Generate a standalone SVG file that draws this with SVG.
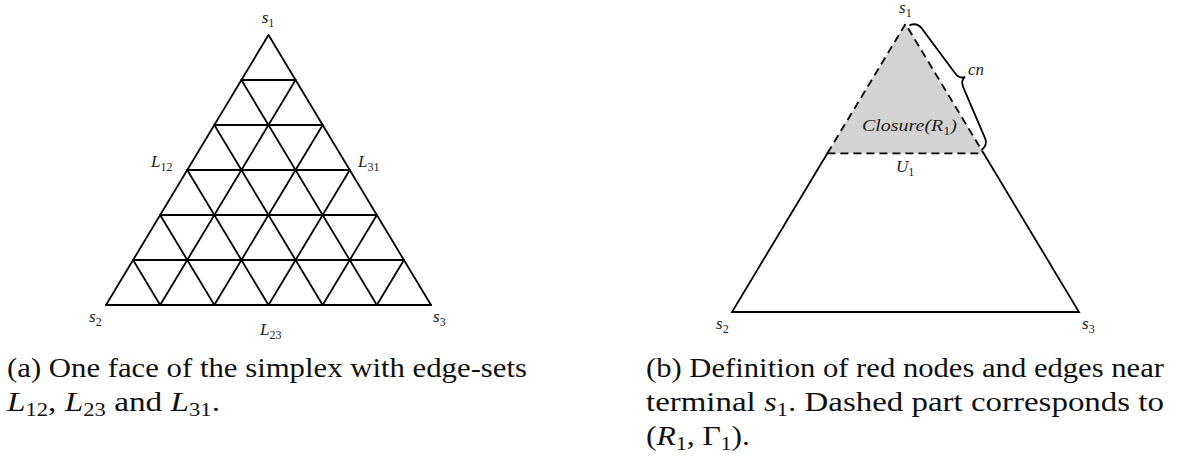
<svg xmlns="http://www.w3.org/2000/svg" width="1177" height="464" viewBox="0 0 1177 464">
<style>
.ln{stroke:#000;stroke-width:1.8;fill:none;stroke-linecap:round}
.ds{stroke:#000;stroke-width:1.8;fill:none;stroke-dasharray:8 5}
.lab{font-family:'Liberation Serif','DejaVu Serif',serif;font-style:italic;font-size:17px;fill:#222}
.sub{font-style:normal;font-size:12px}
.cap{font-family:'Liberation Serif','DejaVu Serif',serif;font-size:28px;fill:#111}
.m{font-style:italic}
.cs{font-size:19px}
</style>
<rect width="1177" height="464" fill="#fff"/>
<g id="panel-a">
  <g id="grid-a" class="ln">
    <path d="M241.42,80H295.58M214.33,125H322.67M187.25,170H349.75M160.17,215H376.83M133.08,260H403.92M106,305H431"/>
    <path d="M268.5,35L106,305M295.58,80L160.17,305M322.67,125L214.33,305M349.75,170L268.5,305M376.83,215L322.67,305M403.92,260L376.83,305"/>
    <path d="M268.5,35L431,305M241.42,80L376.83,305M214.33,125L322.67,305M187.25,170L268.5,305M160.17,215L214.33,305M133.08,260L160.17,305"/>
  </g>
  <g id="labels-a" class="lab" font-family="Liberation Serif, DejaVu Serif, serif">
    <text x="268" y="23" text-anchor="middle">s<tspan class="sub" dy="4">1</tspan></text>
    <text x="151" y="167">L<tspan class="sub" dy="4">12</tspan></text>
    <text x="358" y="167">L<tspan class="sub" dy="4">31</tspan></text>
    <text x="89" y="322">s<tspan class="sub" dy="4">2</tspan></text>
    <text x="433" y="322">s<tspan class="sub" dy="4">3</tspan></text>
    <text x="260" y="335">L<tspan class="sub" dy="4">23</tspan></text>
  </g>
</g>
<g id="panel-b">
  <g id="closure-region">
    <path d="M905.5,24L827.4,153.3H983.6Z" fill="#d3d3d3"/>
    <path class="ds" d="M827.4,153.3L905.5,24L983.6,153.3"/>
    <path class="ds" d="M827.4,153.3H983.6"/>
  </g>
  <g id="outer-triangle" class="ln">
    <path d="M827.4,153.3L732,312H1079L983.6,153.3"/>
  </g>
  <g id="brace">
    <path class="ln" stroke-width="1.6" transform="matrix(0.499,0.866,0.866,-0.499,910,25)" d="M0,0C1,5 4,8 9,8.5L64,15C69,15.5 72,18 72.5,22C73,18 76,15.5 81,15L136,8.5C140,8 143,5 144,0"/>
  </g>
  <g id="labels-b" class="lab" font-family="Liberation Serif, DejaVu Serif, serif">
    <text x="899" y="13">s<tspan class="sub" dy="4">1</tspan></text>
    <text x="968" y="75">cn</text>
    <text x="862" y="131" textLength="95" lengthAdjust="spacingAndGlyphs">Closure(R<tspan class="sub" dy="4">1</tspan><tspan dy="-4">)</tspan></text>
    <text x="896" y="172">U<tspan class="sub" dy="4">1</tspan></text>
    <text x="716" y="329">s<tspan class="sub" dy="4">2</tspan></text>
    <text x="1082" y="329">s<tspan class="sub" dy="4">3</tspan></text>
  </g>
</g>
<g id="caption-a" class="cap" font-family="Liberation Serif, DejaVu Serif, serif">
  <text x="7" y="377" textLength="520" lengthAdjust="spacingAndGlyphs">(a) One face of the simplex with edge-sets</text>
  <text x="7" y="411" textLength="213" lengthAdjust="spacingAndGlyphs"><tspan class="m">L</tspan><tspan class="cs" dy="5">12</tspan><tspan dy="-5">, </tspan><tspan class="m">L</tspan><tspan class="cs" dy="5">23</tspan><tspan dy="-5"> and </tspan><tspan class="m">L</tspan><tspan class="cs" dy="5">31</tspan><tspan dy="-5">.</tspan></text>
</g>
<g id="caption-b" class="cap" font-family="Liberation Serif, DejaVu Serif, serif">
  <text x="646" y="377" textLength="518" lengthAdjust="spacingAndGlyphs">(b) Definition of red nodes and edges near</text>
  <text x="646" y="411" textLength="518" lengthAdjust="spacingAndGlyphs">terminal <tspan class="m">s</tspan><tspan class="cs" dy="5">1</tspan><tspan dy="-5">. Dashed part corresponds to</tspan></text>
  <text x="646" y="445" textLength="104" lengthAdjust="spacingAndGlyphs">(<tspan class="m">R</tspan><tspan class="cs" dy="5">1</tspan><tspan dy="-5">, Γ</tspan><tspan class="cs" dy="5">1</tspan><tspan dy="-5">).</tspan></text>
</g>
</svg>
